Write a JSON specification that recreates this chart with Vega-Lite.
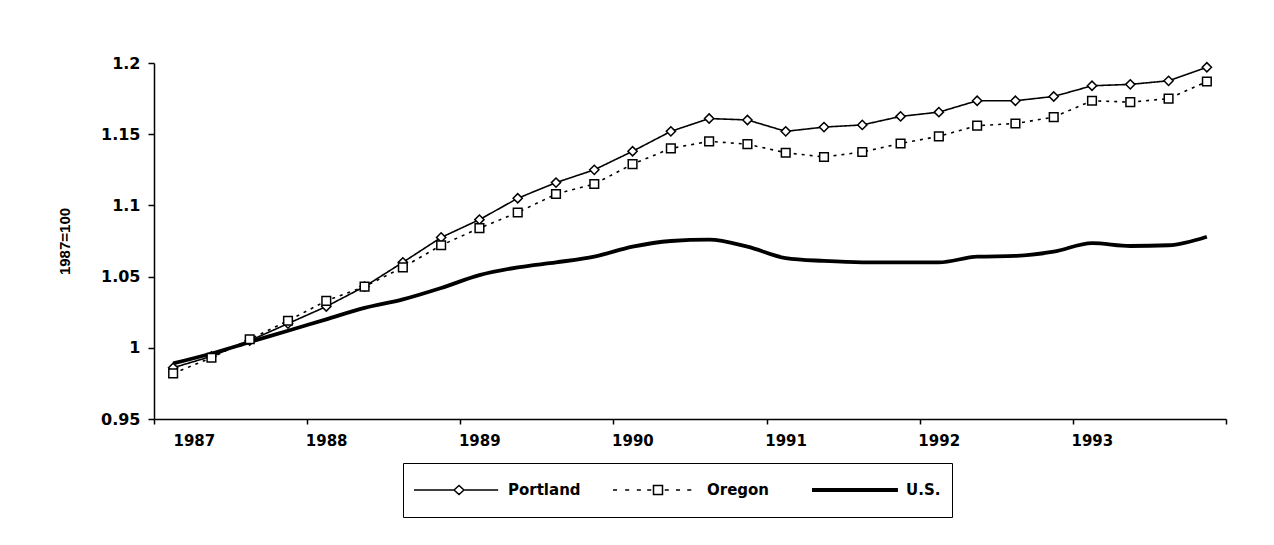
{
  "$schema": "https://vega.github.io/schema/vega-lite/v6.json",
  "width": 1072,
  "height": 356,
  "autosize": {"type": "none"},
  "padding": {"left": 154, "top": 63, "right": 48, "bottom": 126},
  "background": "white",
  "config": {
    "view": {"stroke": null},
    "font": "DejaVu Sans",
    "axis": {
      "labelFont": "DejaVu Sans",
      "labelFontWeight": "bold",
      "labelFontSize": 15,
      "labelColor": "black",
      "domainColor": "black",
      "domainWidth": 1.5,
      "tickColor": "black",
      "tickWidth": 1.5,
      "grid": false,
      "titleFont": "Liberation Sans",
      "titleFontWeight": "bold",
      "titleColor": "black"
    },
    "legend": {
      "labelFont": "DejaVu Sans",
      "labelFontWeight": "bold",
      "labelFontSize": 15,
      "labelColor": "black"
    }
  },
  "data": {
    "values": [
      {"t": 1987.125, "series": "Portland", "v": 0.986}, {"t": 1987.375, "series": "Portland", "v": 0.994}, {"t": 1987.625, "series": "Portland", "v": 1.005}, {"t": 1987.875, "series": "Portland", "v": 1.017},
      {"t": 1988.125, "series": "Portland", "v": 1.029}, {"t": 1988.375, "series": "Portland", "v": 1.043}, {"t": 1988.625, "series": "Portland", "v": 1.060}, {"t": 1988.875, "series": "Portland", "v": 1.0775},
      {"t": 1989.125, "series": "Portland", "v": 1.090}, {"t": 1989.375, "series": "Portland", "v": 1.105}, {"t": 1989.625, "series": "Portland", "v": 1.116}, {"t": 1989.875, "series": "Portland", "v": 1.125},
      {"t": 1990.125, "series": "Portland", "v": 1.138}, {"t": 1990.375, "series": "Portland", "v": 1.152}, {"t": 1990.625, "series": "Portland", "v": 1.161}, {"t": 1990.875, "series": "Portland", "v": 1.160},
      {"t": 1991.125, "series": "Portland", "v": 1.152}, {"t": 1991.375, "series": "Portland", "v": 1.155}, {"t": 1991.625, "series": "Portland", "v": 1.1565}, {"t": 1991.875, "series": "Portland", "v": 1.1625},
      {"t": 1992.125, "series": "Portland", "v": 1.1655}, {"t": 1992.375, "series": "Portland", "v": 1.1735}, {"t": 1992.625, "series": "Portland", "v": 1.1735}, {"t": 1992.875, "series": "Portland", "v": 1.1765},
      {"t": 1993.125, "series": "Portland", "v": 1.184}, {"t": 1993.375, "series": "Portland", "v": 1.185}, {"t": 1993.625, "series": "Portland", "v": 1.1875}, {"t": 1993.875, "series": "Portland", "v": 1.197},

      {"t": 1987.125, "series": "Oregon", "v": 0.982}, {"t": 1987.375, "series": "Oregon", "v": 0.993}, {"t": 1987.625, "series": "Oregon", "v": 1.006}, {"t": 1987.875, "series": "Oregon", "v": 1.019},
      {"t": 1988.125, "series": "Oregon", "v": 1.033}, {"t": 1988.375, "series": "Oregon", "v": 1.043}, {"t": 1988.625, "series": "Oregon", "v": 1.0565}, {"t": 1988.875, "series": "Oregon", "v": 1.072},
      {"t": 1989.125, "series": "Oregon", "v": 1.084}, {"t": 1989.375, "series": "Oregon", "v": 1.095}, {"t": 1989.625, "series": "Oregon", "v": 1.108}, {"t": 1989.875, "series": "Oregon", "v": 1.115},
      {"t": 1990.125, "series": "Oregon", "v": 1.129}, {"t": 1990.375, "series": "Oregon", "v": 1.140}, {"t": 1990.625, "series": "Oregon", "v": 1.145}, {"t": 1990.875, "series": "Oregon", "v": 1.143},
      {"t": 1991.125, "series": "Oregon", "v": 1.137}, {"t": 1991.375, "series": "Oregon", "v": 1.134}, {"t": 1991.625, "series": "Oregon", "v": 1.1375}, {"t": 1991.875, "series": "Oregon", "v": 1.1435},
      {"t": 1992.125, "series": "Oregon", "v": 1.1485}, {"t": 1992.375, "series": "Oregon", "v": 1.156}, {"t": 1992.625, "series": "Oregon", "v": 1.1575}, {"t": 1992.875, "series": "Oregon", "v": 1.162},
      {"t": 1993.125, "series": "Oregon", "v": 1.1735}, {"t": 1993.375, "series": "Oregon", "v": 1.1725}, {"t": 1993.625, "series": "Oregon", "v": 1.175}, {"t": 1993.875, "series": "Oregon", "v": 1.187},

      {"t": 1987.125, "series": "U.S.", "v": 0.989}, {"t": 1987.375, "series": "U.S.", "v": 0.996}, {"t": 1987.625, "series": "U.S.", "v": 1.004}, {"t": 1987.875, "series": "U.S.", "v": 1.012},
      {"t": 1988.125, "series": "U.S.", "v": 1.020}, {"t": 1988.375, "series": "U.S.", "v": 1.028}, {"t": 1988.625, "series": "U.S.", "v": 1.034}, {"t": 1988.875, "series": "U.S.", "v": 1.042},
      {"t": 1989.125, "series": "U.S.", "v": 1.051}, {"t": 1989.375, "series": "U.S.", "v": 1.0565}, {"t": 1989.625, "series": "U.S.", "v": 1.060}, {"t": 1989.875, "series": "U.S.", "v": 1.064},
      {"t": 1990.125, "series": "U.S.", "v": 1.071}, {"t": 1990.375, "series": "U.S.", "v": 1.075}, {"t": 1990.625, "series": "U.S.", "v": 1.076}, {"t": 1990.875, "series": "U.S.", "v": 1.071},
      {"t": 1991.125, "series": "U.S.", "v": 1.063}, {"t": 1991.375, "series": "U.S.", "v": 1.061}, {"t": 1991.625, "series": "U.S.", "v": 1.060}, {"t": 1991.875, "series": "U.S.", "v": 1.060},
      {"t": 1992.125, "series": "U.S.", "v": 1.060}, {"t": 1992.375, "series": "U.S.", "v": 1.064}, {"t": 1992.625, "series": "U.S.", "v": 1.0645}, {"t": 1992.875, "series": "U.S.", "v": 1.0675},
      {"t": 1993.125, "series": "U.S.", "v": 1.0735}, {"t": 1993.375, "series": "U.S.", "v": 1.0715}, {"t": 1993.625, "series": "U.S.", "v": 1.072}, {"t": 1993.875, "series": "U.S.", "v": 1.078}
    ]
  },
  "encoding": {
    "x": {
      "field": "t",
      "type": "quantitative",
      "scale": {"domain": [1987, 1994], "nice": false, "zero": false},
      "axis": {
        "title": null,
        "values": [1987, 1988, 1989, 1990, 1991, 1992, 1993, 1994],
        "labelExpr": "datum.value == 1994 ? '' : format(datum.value, 'd')",
        "labelOffset": 19,
        "labelPadding": 9,
        "tickSize": 5
      }
    },
    "y": {
      "field": "v",
      "type": "quantitative",
      "scale": {"domain": [0.95, 1.2], "nice": false, "zero": false},
      "axis": {
        "title": "1987=100",
        "titleFontSize": 15,
        "titlePadding": 28,
        "values": [0.95, 1, 1.05, 1.1, 1.15, 1.2],
        "format": ".3~g",
        "labelFontSize": 16,
        "labelPadding": 8,
        "tickSize": 6
      }
    },
    "color": {
      "field": "series",
      "type": "nominal",
      "scale": {"domain": ["Portland", "Oregon", "U.S."], "range": ["black", "black", "black"]},
      "legend": {
        "title": null,
        "orient": "none",
        "legendX": 249,
        "legendY": 400,
        "direction": "horizontal",
        "columns": 3,
        "gridAlign": "all",
        "columnPadding": 32,
        "padding": 11,
        "strokeColor": "black",
        "fillColor": "white",
        "clipHeight": 32,
        "symbolSize": 8100,
        "symbolOffset": 37.5,
        "labelOffset": 41.5,
        "labelExpr": "datum.label === 'U.S.' ? 'U.S.\u00a0\u00a0\u00a0\u00a0\u00a0\u00a0\u00a0\u00a0\u00a0\u00a0\u00a0' : datum.label",
        "encode": {
          "symbols": {
            "update": {
              "shape": {"signal": "datum.value === 'Portland' ? 'M-1,0L-0.11,0M0.11,0L0.87,0M-0.11,0L0,-0.1L0.11,0L0,0.1Z' : datum.value === 'Oregon' ? 'M-1,0L-0.91,0M-0.73,0L-0.64,0M-0.47,0L-0.38,0M-0.24,0L-0.15,0M0.15,0L0.24,0M0.4,0L0.49,0M0.65,0L0.74,0M-0.1,-0.1L0.1,-0.1L0.1,0.1L-0.1,0.1Z' : 'M-1,0L0.91,0'"},
              "strokeWidth": {"signal": "datum.value === 'U.S.' ? 4 : 1.5"},
              "stroke": {"value": "black"},
              "fill": {"value": "white"},
              "fillOpacity": {"value": 1},
              "opacity": {"value": 1}
            }
          }
        }
      }
    }
  },
  "layer": [
    {
      "transform": [{"filter": "datum.series !== 'U.S.'"}],
      "mark": {"type": "line", "strokeWidth": 1.6},
      "encoding": {
        "strokeDash": {
          "field": "series",
          "type": "nominal",
          "scale": {"domain": ["Portland", "Oregon"], "range": [[1, 0], [3, 5]]},
          "legend": null
        }
      }
    },
    {
      "transform": [{"filter": "datum.series === 'U.S.'"}],
      "mark": {"type": "line", "strokeWidth": 3.8, "interpolate": "monotone"},
      "encoding": {}
    },
    {
      "transform": [{"filter": "datum.series === 'Portland'"}],
      "mark": {"type": "point", "shape": "diamond", "size": 85, "filled": false, "fill": "white", "fillOpacity": 1, "stroke": "black", "strokeWidth": 1.5, "opacity": 1},
      "encoding": {}
    },
    {
      "transform": [{"filter": "datum.series === 'Oregon'"}],
      "mark": {"type": "point", "shape": "square", "size": 75, "filled": false, "fill": "white", "fillOpacity": 1, "stroke": "black", "strokeWidth": 1.5, "opacity": 1},
      "encoding": {}
    }
  ]
}
